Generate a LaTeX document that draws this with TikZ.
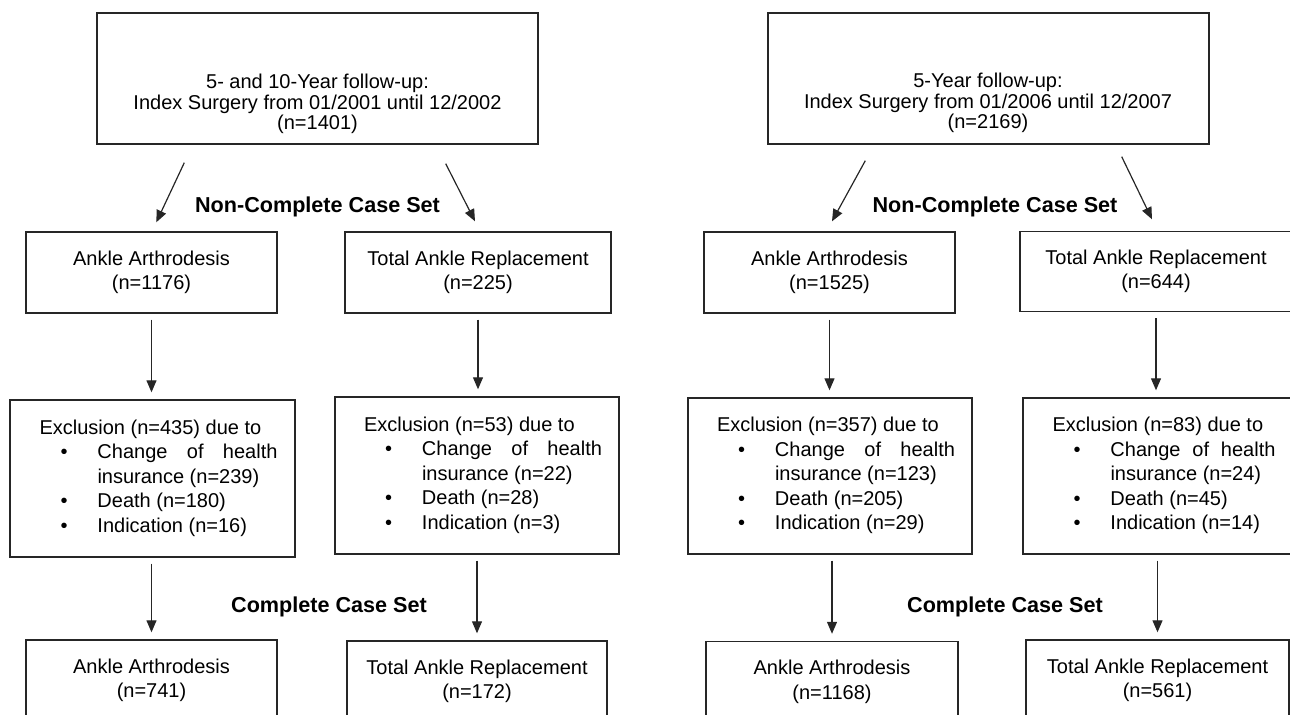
\documentclass[tikz,border=0pt]{standalone}
\usepackage{fontspec}
\setmainfont{Liberation Sans}
\usepackage{tikz}
\usetikzlibrary{arrows.meta}
\usetikzlibrary{calc}
\definecolor{mline}{rgb}{0.15, 0.15, 0.15}

\tikzset{
  box/.style={draw=mline, line width=0.7pt, inner sep=0pt, align=center, font=\fontsize{10}{12.25}\selectfont},
  toptext/.style={inner sep=0pt, align=center, font=\fontsize{10}{10.2}\selectfont},
  sethead/.style={inner sep=0pt, font=\fontsize{10.8}{13}\selectfont\bfseries},
  arr/.style={-{Triangle[length=6pt,width=5pt]}, line width=0.6pt, mline},
  gap/.style={shorten <=3pt, shorten >=3.5pt}
}

\newcommand{\exclist}[5][90pt]{%
  \begin{tabular}{@{\hspace{6pt}}l@{}}
    Exclusion (n=#2) due to\\
    \makebox[29pt][l]{\hspace{10.5pt}•}\makebox[#1][s]{Change of health}\\
    \hspace*{29pt}insurance (n=#3)\\
    \makebox[29pt][l]{\hspace{10.5pt}•}Death (n=#4)\\
    \makebox[29pt][l]{\hspace{10.5pt}•}Indication (n=#5)
  \end{tabular}}

\begin{document}
\begin{tikzpicture}[x=0.5pt, y=-0.5pt]
      \useasboundingbox (0,0) rectangle (1290,715);
      \clip (0,0) rectangle (1290,715);

      \node [box, minimum width=220.5pt, minimum height=65.5pt] (top1) at (317.5,78.5) {};
      \node [toptext] (top1txt) at (317.5,104) {5- and 10-Year follow-up:\\Index Surgery from 01/2001 until 12/2002\\(n=1401)};
      \node [box, minimum width=125.5pt, minimum height=40.5pt] (aa1) at (151.5,272.5) {Ankle Arthrodesis\\(n=1176)};
      \node [box, minimum width=133pt, minimum height=40.5pt] (tar1) at (478,272.5) {Total Ankle Replacement\\(n=225)};
      \node [box, minimum width=142.5pt, minimum height=78.5pt] (ex1) at (152.5,478.5) {\exclist{435}{239}{180}{16}};
      \node [box, minimum width=142pt, minimum height=78.5pt] (ex2) at (477,475.5) {\exclist{53}{22}{28}{3}};
      \node [box, minimum width=125.5pt, minimum height=40.5pt] (cc1) at (151.5,680.5) {Ankle Arthrodesis\\(n=741)};
      \node [box, minimum width=130pt, minimum height=40.5pt] (cc2) at (477,681.5) {Total Ankle Replacement\\(n=172)};
      \node [sethead] (ncs1) at (317.5,207) {Non-Complete Case Set};
      \node [sethead] (ccs1) at (329,607) {Complete Case Set};

      \node [box, minimum width=220.5pt, minimum height=65.5pt] (top2) at (988.5,78.5) {};
      \node [toptext] (top2txt) at (988,103) {5-Year follow-up:\\Index Surgery from 01/2006 until 12/2007\\(n=2169)};
      \node [box, minimum width=125.5pt, minimum height=40.5pt] (aa2) at (829.5,272.5) {Ankle Arthrodesis\\(n=1525)};
      \node [box, minimum width=136pt, minimum height=40pt] (tar2) at (1156,271.5) {Total Ankle Replacement\\(n=644)};
      \node [box, minimum width=142pt, minimum height=78pt] (ex3) at (830,476) {\exclist{357}{123}{205}{29}};
      \node [box, minimum width=135pt, minimum height=78pt] (ex4) at (1158,476) {\exclist[82.5pt]{83}{24}{45}{14}};
      \node [box, minimum width=126pt, minimum height=40.5pt] (cc3) at (832,682) {Ankle Arthrodesis\\(n=1168)};
      \node [box, minimum width=131.5pt, minimum height=40.5pt] (cc4) at (1157.5,680.5) {Total Ankle Replacement\\(n=561)};
      \node [sethead] (ncs2) at (995,207) {Non-Complete Case Set};
      \node [sethead] (ccs2) at (1005,607) {Complete Case Set};

      \draw [arr] ([shift={(88,18)}]top1.south west) -- ([shift={(131,-9)}]aa1.north west);
      \draw [arr] ([shift={(-93,19)}]top1.south east) -- ([shift={(-3,-10)}]tar1.north);
      \draw [arr] ([shift={(98,16)}]top2.south west) -- ([shift={(2.5,-10)}]aa2.north);
      \draw [arr] ([shift={(-88,12)}]top2.south east) -- ([shift={(-4,-11.5)}]tar2.north);

      \draw [arr, gap] (aa1.south) -- (aa1.south |- ex1.north);
      \draw [arr, gap] (tar1.south) -- (tar1.south |- ex2.north);
      \draw [arr, gap] (cc1.north |- ex1.south) -- (cc1.north);
      \draw [arr, gap] (cc2.north |- ex2.south) -- (cc2.north);
      \draw [arr, gap] (aa2.south) -- (aa2.south |- ex3.north);
      \draw [arr, gap] (tar2.south) -- (tar2.south |- ex4.north);
      \draw [arr, gap] (cc3.north |- ex3.south) -- (cc3.north);
      \draw [arr, gap] (cc4.north |- ex4.south) -- (cc4.north);
    \end{tikzpicture}
\end{document}
